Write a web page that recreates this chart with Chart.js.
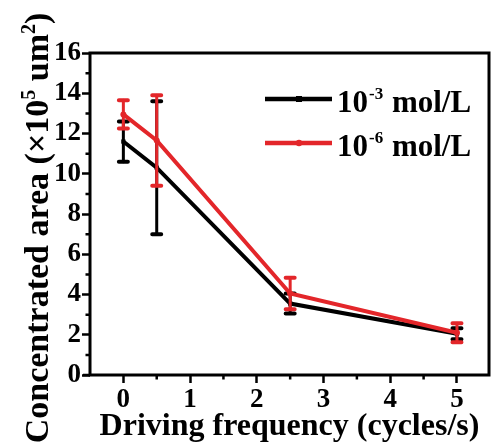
<!DOCTYPE html>
<html>
<head>
<meta charset="utf-8">
<script src="https://cdn.jsdelivr.net/npm/chart.js@4.4.1/dist/chart.umd.min.js"></script>
<style>
  html, body { margin: 0; padding: 0; background: #fff; }
  #wrap { width: 493px; height: 446px; }
</style>
</head>
<body>
<div id="wrap"><canvas id="areaChart"></canvas></div>
<script>
// data
const frequency = [0, 0.5, 2.5, 5];
const area3 = [11.6, 10.3, 3.55, 2.05];
const err3 = [1.0, 3.3, 0.5, 0.27];
const area6 = [12.95, 11.65, 4.05, 2.1];
const err6 = [0.7, 2.25, 0.78, 0.47];
const seriesExp = ['-3', '-6'];
const xTicks = [0, 1, 2, 3, 4, 5];
const xMinor = [0.5, 1.5, 2.5, 3.5, 4.5];
const yTicks = [0, 2, 4, 6, 8, 10, 12, 14, 16];
const yMinor = [1, 3, 5, 7, 9, 11, 13, 15];

const FONT = '"Liberation Serif", "Times New Roman", "DejaVu Serif", serif';

const toPoints = (ys) => ys.map((y, i) => ({ x: frequency[i], y: y }));

// error bars, drawn with each dataset so red sits over black
const errorBars = {
    id: 'errorBars',
    afterDatasetDraw(chart, args) {
        const ds = chart.data.datasets[args.index];
        if (!ds.errors) return;
        const { ctx, scales: { x, y } } = chart;
        ctx.save();
        ctx.strokeStyle = ds.borderColor;
        ctx.lineCap = 'round';
        ds.data.forEach((p, i) => {
            const px = x.getPixelForValue(p.x);
            const top = y.getPixelForValue(p.y + ds.errors[i]);
            const bot = y.getPixelForValue(p.y - ds.errors[i]);
            ctx.lineWidth = 3;
            ctx.beginPath();
            ctx.moveTo(px, top); ctx.lineTo(px, bot);
            ctx.stroke();
            ctx.lineWidth = 4;
            ctx.beginPath();
            ctx.moveTo(px - 4.5, top); ctx.lineTo(px + 4.5, top);
            ctx.moveTo(px - 4.5, bot); ctx.lineTo(px + 4.5, bot);
            ctx.stroke();
        });
        ctx.restore();
    }
};

// frame, minor ticks, y title and legend
const decorations = {
    id: 'decorations',
    afterDraw(chart) {
        const { ctx, chartArea: a, scales: { x, y } } = chart;
        ctx.save();
        ctx.strokeStyle = '#000';
        ctx.lineWidth = 3;
        ctx.strokeRect(a.left, a.top, a.right - a.left, a.bottom - a.top);

        ctx.lineWidth = 2.5;
        ctx.beginPath();
        yMinor.forEach(v => {
            const py = y.getPixelForValue(v);
            ctx.moveTo(a.left - 4.5, py); ctx.lineTo(a.left, py);
        });
        xMinor.forEach(v => {
            const px = x.getPixelForValue(v);
            ctx.moveTo(px, a.bottom); ctx.lineTo(px, a.bottom + 4.5);
        });
        ctx.moveTo(a.left - 7, a.bottom); ctx.lineTo(a.left, a.bottom);
        ctx.stroke();

        // y axis title with real superscripts
        ctx.fillStyle = '#000';
        const big = 'bold 34px ' + FONT, small = 'bold 20px ' + FONT;
        const parts = [
            ['Concentrated area (\u00d710', big, 0],
            ['5', small, -13],
            [' um', big, 0],
            ['2', small, -13],
            [')', big, 0]
        ];
        let total = 0;
        parts.forEach(p => { ctx.font = p[1]; p.w = ctx.measureText(p[0]).width; total += p.w; });
        ctx.translate(48, 228);
        ctx.rotate(-Math.PI / 2);
        ctx.textBaseline = 'alphabetic';
        let cx = -total / 2;
        parts.forEach(p => { ctx.font = p[1]; ctx.fillText(p[0], cx, p[2]); cx += p.w; });
        ctx.setTransform(1, 0, 0, 1, 0, 0);

        // legend
        chart.data.datasets.forEach((ds, i) => {
            const ly = 99 + i * 44;
            ctx.strokeStyle = ds.borderColor;
            ctx.lineWidth = 4.5;
            ctx.beginPath();
            ctx.moveTo(265, ly); ctx.lineTo(332, ly);
            ctx.stroke();
            ctx.fillStyle = ds.borderColor;
            ctx.beginPath();
            if (ds.pointStyle === 'rect') ctx.rect(296, ly - 3, 6, 6);
            else ctx.arc(299, ly, 3.2, 0, Math.PI * 2);
            ctx.fill();
            ctx.fillStyle = '#000';
            ctx.font = 'bold 31px ' + FONT;
            ctx.fillText('10', 337, ly + 13);
            const w10 = ctx.measureText('10').width;
            ctx.font = 'bold 17px ' + FONT;
            ctx.fillText(seriesExp[i], 337 + w10 + 1, ly);
            const we = ctx.measureText(seriesExp[i]).width;
            ctx.font = 'bold 31px ' + FONT;
            ctx.fillText(' mol/L', 337 + w10 + we + 2, ly + 13);
        });
        ctx.restore();
    }
};

function draw() {
    new Chart(document.getElementById('areaChart'), {
        type: 'line',
        data: {
            datasets: [{
                label: '10' + seriesExp[0] + ' mol/L',
                data: toPoints(area3),
                errors: err3,
                borderColor: '#000000',
                backgroundColor: '#000000',
                borderWidth: 4,
                pointStyle: 'rect',
                pointRadius: 3,
                pointBorderWidth: 0,
                order: 2
            }, {
                label: '10' + seriesExp[1] + ' mol/L',
                data: toPoints(area6),
                errors: err6,
                borderColor: '#e3262a',
                backgroundColor: '#e3262a',
                borderWidth: 4,
                pointStyle: 'circle',
                pointRadius: 3,
                pointBorderWidth: 0,
                order: 1
            }]
        },
        options: {
            responsive: true,
            maintainAspectRatio: false,
            animation: false,
            layout: { padding: { top: 53, right: 3, left: 0, bottom: 0 } },
            plugins: {
                legend: { display: false },
                tooltip: { enabled: false }
            },
            scales: {
                x: {
                    type: 'linear',
                    min: -0.5,
                    max: 5.48,
                    afterBuildTicks: (s) => { s.ticks = xTicks.map(v => ({ value: v })); },
                    afterFit: (s) => { s.height = 71; },
                    border: { display: false },
                    grid: { drawOnChartArea: false, tickLength: 8, tickWidth: 2.5, tickColor: '#000' },
                    ticks: { color: '#000', padding: 1, maxRotation: 0, font: { family: FONT, size: 27, weight: 'bold' } },
                    title: {
                        display: true,
                        text: 'Driving frequency (cycles/s)',
                        color: '#000',
                        padding: { top: -9, bottom: 0 },
                        font: { family: FONT, size: 32, weight: 'bold' }
                    }
                },
                y: {
                    min: 0,
                    max: 16,
                    afterBuildTicks: (s) => { s.ticks = yTicks.map(v => ({ value: v })); },
                    afterFit: (s) => { s.width = 90; },
                    border: { display: false },
                    grid: { drawOnChartArea: false, tickLength: 8, tickWidth: 2.5, tickColor: '#000' },
                    ticks: { color: '#000', padding: 1, font: { family: FONT, size: 27, weight: 'bold' } }
                }
            }
        },
        plugins: [errorBars, decorations]
    });
}

document.fonts.load('bold 20px "Liberation Serif"').then(draw, draw);
</script>
</body>
</html>
